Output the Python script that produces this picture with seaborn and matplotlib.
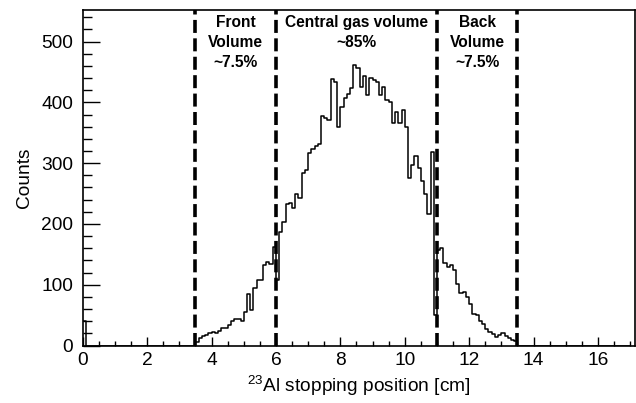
import numpy as np
import pandas as pd
import matplotlib
matplotlib.use("Agg")
import matplotlib.pyplot as plt
from matplotlib.ticker import MultipleLocator
import seaborn as sns

# Stopping-position histogram, 0.1 cm bins
bin_width = 0.1
x_max = 17.0

# counts in the bin starting at 0 cm
origin_counts = [40]
# front volume, bins from 3.5 to 6.0 cm
front_counts = [5, 13, 15, 18, 20, 22, 20, 24, 28, 28,
                33, 40, 44, 44, 40, 55, 84, 58, 95, 108,
                108, 132, 137, 134, 162]
# central gas volume, bins from 6.0 to 11.0 cm
central_counts = [107, 187, 203, 233, 235, 226, 249, 243, 284, 289,
                  316, 323, 329, 331, 378, 374, 371, 439, 434, 360,
                  393, 408, 414, 424, 462, 456, 426, 443, 412, 440,
                  437, 434, 412, 425, 404, 401, 366, 384, 366, 388,
                  360, 275, 297, 311, 292, 270, 250, 216, 318, 50]
# back volume, bins from 11.0 to 13.5 cm
back_counts = [157, 160, 135, 129, 133, 124, 102, 86, 88, 80,
               69, 52, 50, 40, 36, 27, 22, 19, 14, 17,
               20, 16, 12, 9, 7]

region_edges = [3.5, 6.0, 11.0, 13.5]
region_labels = ["Front\nVolume\n~7.5%", "Central gas volume\n~85%", "Back\nVolume\n~7.5%"]
region_label_x = [4.75, 8.5, 12.25]

y_ticks = [0, 100, 200, 300, 400, 500]
x_ticks = [0, 2, 4, 6, 8, 10, 12, 14, 16]

n_bins = int(round(x_max / bin_width))
edges = [round(k * bin_width, 2) for k in range(n_bins + 1)]
counts = np.zeros(n_bins)
counts[0:1] = origin_counts
i0 = int(round(region_edges[0] / bin_width))
counts[i0:i0 + len(front_counts)] = front_counts
i1 = i0 + len(front_counts)
counts[i1:i1 + len(central_counts)] = central_counts
i2 = i1 + len(central_counts)
counts[i2:i2 + len(back_counts)] = back_counts

df = pd.DataFrame({"position": np.array(edges[:-1]) + bin_width / 2,
                   "counts": counts})

sns.set_theme(style="white")
plt.rcParams["font.family"] = ["Liberation Sans", "DejaVu Sans"]
plt.rcParams["mathtext.default"] = "regular"

fig = plt.figure(figsize=(6.36, 4.03), dpi=100)
ax = fig.add_axes([82.7 / 636, 1 - 345.5 / 403, 552.3 / 636, 335.5 / 403])

sns.histplot(data=df, x="position", weights="counts", bins=edges,
             element="step", fill=False, color="black", linewidth=1.1, ax=ax)

for xe in region_edges:
    ax.axvline(xe, color="black", linewidth=2.6, dashes=(3.6, 1.5), zorder=3)

for xl, txt in zip(region_label_x, region_labels):
    ax.text(xl, 543, txt, ha="center", va="top", fontsize=11.2,
            fontweight="bold", linespacing=1.38, color="black")

ax.set_xlim(0, 17.15)
ax.set_ylim(0, 552)
ax.set_xticks(x_ticks)
ax.set_yticks(y_ticks)
ax.xaxis.set_minor_locator(MultipleLocator(0.5))
ax.yaxis.set_minor_locator(MultipleLocator(20))
ax.tick_params(axis="both", which="both", direction="in", width=1.0,
               colors="black", top=False, right=False, bottom=True, left=True)
ax.tick_params(axis="x", which="major", length=6.5, labelsize=13.8, pad=5)
ax.tick_params(axis="x", which="minor", length=3.6)
ax.tick_params(axis="y", which="major", length=12, labelsize=13.8, pad=7)
ax.tick_params(axis="y", which="minor", length=6.5)

ax.set_xlabel("$^{23}$Al stopping position [cm]", fontsize=13.8, color="black", labelpad=3.5)
ax.set_ylabel("Counts", fontsize=13.8, color="black", labelpad=6)

for s in ax.spines.values():
    s.set_color("black")
    s.set_linewidth(1.2)
    s.set_visible(True)

fig.savefig("out.png", dpi=100)
